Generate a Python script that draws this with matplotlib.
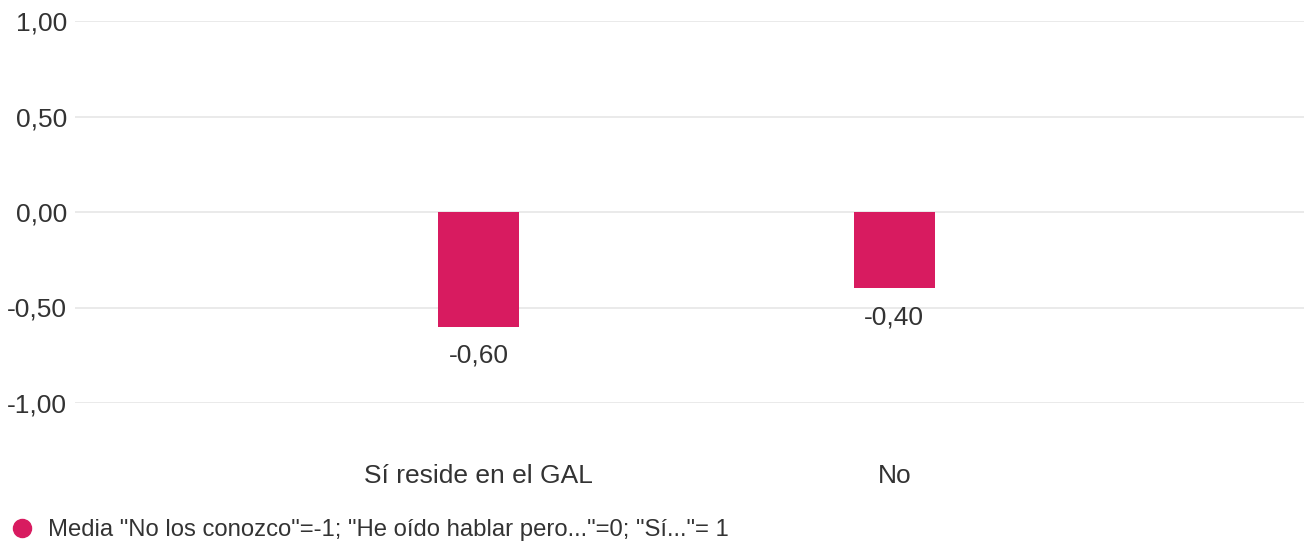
import matplotlib
matplotlib.use('Agg')
import matplotlib.pyplot as plt
from matplotlib.lines import Line2D

plt.rcParams['font.family'] = ['Liberation Sans', 'DejaVu Sans']

categories = ['Sí reside en el GAL', 'No']
values = [-0.60, -0.40]
yticks = [-1.0, -0.5, 0.0, 0.5, 1.0]
series_label = 'Media "No los conozco"=-1; "He oído hablar pero..."=0; "Sí..."= 1'

bar_color = '#D81B60'
text_color = '#333333'

fig = plt.figure(figsize=(13.04, 5.47), dpi=100)
W, H = 1304, 547
ax = fig.add_axes([75 / W, 1 - 403 / H, (1304 - 75) / W, (403 - 21) / H])

x = list(range(len(categories)))
ax.bar(x, values, width=0.195, color=bar_color, zorder=3)
for xi, v in zip(x, values):
    ax.annotate(f'{v:.2f}'.replace('.', ','), (xi, v), xytext=(0, -12.5),
                textcoords='offset points', ha='center', va='top',
                fontsize=19, color=text_color)

ax.set_xlim(-0.97, 1.985)
ax.set_ylim(-1.0, 1.0)
ax.set_yticks(yticks)
ax.set_yticklabels([f'{t:.2f}'.replace('.', ',') for t in yticks])
ax.set_xticks(x)
ax.set_xticklabels(categories)
ax.tick_params(axis='y', length=0, pad=5.5, labelsize=19, labelcolor=text_color)
ax.tick_params(axis='x', length=0, pad=44, labelsize=19, labelcolor=text_color)
ax.grid(axis='y', color='#e6e6e6', linewidth=1.2, zorder=0)
for s in ax.spines.values():
    s.set_visible(False)

handle = Line2D([], [], marker='o', linestyle='', markersize=13,
                markerfacecolor=bar_color, markeredgecolor=bar_color)
fig.legend([handle], [series_label], loc='center left',
           bbox_to_anchor=(8 / W, 1 - 530 / H), frameon=False, fontsize=17.2,
           labelcolor=text_color, handletextpad=0.58, borderaxespad=0,
           borderpad=0.1, handlelength=1.0)

fig.savefig('out.png', dpi=100)
